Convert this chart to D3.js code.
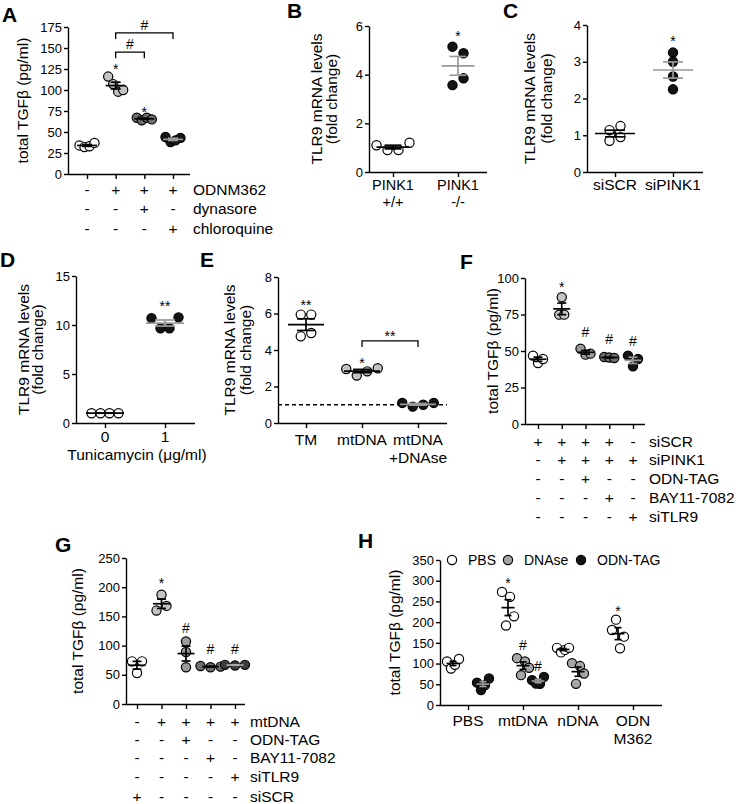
<!DOCTYPE html>
<html><head><meta charset="utf-8">
<script src="https://cdn.jsdelivr.net/npm/d3@7"></script>
<style>body{margin:0;background:#fff}svg{display:block}</style>
</head><body>
<svg id="fig" width="739" height="804"></svg>
<script>
// ================= DATA =================
// Panel A
const aTicks = [0, 25, 50, 75, 100, 125, 150, 175];
const aValues = [[34, 32, 33, 37], [116, 107, 98, 100], [67, 64, 67, 65], [44, 38, 40, 43]];
const aRowNames = ["ODNM362", "dynasore", "chloroquine"];
const aRowSigns = [["-", "+", "+", "+"], ["-", "-", "+", "-"], ["-", "-", "-", "+"]];
const aMarks = [{ g: 1, text: "*", level: 119 }, { g: 2, text: "*", level: 68 }];
const aBrackets = [{ from: 1, to: 2, level: 145, text: "#" }, { from: 1, to: 3, level: 168, text: "#" }];
// Panel B
const bTicks = [0, 2, 4, 6];
const bCats = [["PINK1", "+/+"], ["PINK1", "-/-"]];
const bValues = [[1.1, 0.9, 0.9, 1.2], [5.15, 4.88, 3.57, 3.85]];
const bMarks = [{ g: 1, text: "*", level: 5.4 }];
// Panel C
const cTicks = [0, 1, 2, 3, 4];
const cCats = [["siSCR"], ["siPINK1"]];
const cValues = [[1.14, 1.25, 0.85, 0.95], [3.0, 3.25, 2.6, 2.25]];
const cMarks = [{ g: 1, text: "*", level: 3.43 }];
// Panel D
const dTicks = [0, 5, 10, 15];
const dCats = [["0"], ["1"]];
const dValues = [[1, 1, 1, 1], [10.7, 9.66, 9.66, 10.78]];
const dMarks = [{ g: 1, text: "**", level: 11.4 }];
// Panel E
const eTicks = [0, 2, 4, 6, 8];
const eCats = [["TM"], ["mtDNA"], ["mtDNA", "+DNAse"]];
const eValues = [[5.94, 5.94, 4.75, 4.93], [2.96, 2.6, 2.83, 3.0], [1.1, 0.9, 1.0, 1.1]];
const eMarks = [{ g: 0, text: "**", level: 6.2 }, { g: 1, text: "*", level: 3.0 }];
const eBrackets = [{ from: 1, to: 2, level: 4.5, text: "**" }];
const eBaseline = 1;
// Panel F
const fTicks = [0, 25, 50, 75, 100];
const fValues = [[46.8, 41.8, 44.5], [86.8, 74.9, 74.9], [51.6, 47.5, 48.2], [45.9, 45.5, 45.2], [46.8, 39.5, 44.5]];
const fRowNames = ["siSCR", "siPINK1", "ODN-TAG", "BAY11-7082", "siTLR9"];
const fRowSigns = [["+", "+", "+", "+", "-"], ["-", "+", "+", "+", "+"], ["-", "-", "+", "-", "-"], ["-", "-", "-", "+", "-"], ["-", "-", "-", "-", "+"]];
const fMarks = [{ g: 1, text: "*", level: 90.4 }, { g: 2, text: "#", level: 59.6 }, { g: 3, text: "#", level: 54.8 }, { g: 4, text: "#", level: 53.4 }];
// Panel G
const gTicks = [0, 50, 100, 150, 200, 250];
const gValues = [[73, 53, 73], [187, 160, 168], [107, 89, 63], [65, 63, 64], [67, 66, 67]];
const gRowNames = ["mtDNA", "ODN-TAG", "BAY11-7082", "siTLR9", "siSCR"];
const gRowSigns = [["-", "+", "+", "+", "+"], ["-", "-", "+", "-", "-"], ["-", "-", "-", "+", "-"], ["-", "-", "-", "-", "+"], ["+", "-", "-", "-", "-"]];
const gMarks = [{ g: 1, text: "*", level: 198.6 }, { g: 2, text: "#", level: 121.6 }, { g: 3, text: "#", level: 85.6 }, { g: 4, text: "#", level: 85.6 }];
// Panel H
const hTicks = [0, 50, 100, 150, 200, 250, 300, 350];
const hCats = [["PBS"], ["mtDNA"], ["nDNA"], ["ODN", "M362"]];
const hTreatments = ["PBS", "DNAse", "ODN-TAG"];
const hPBS = [[105, 88, 97, 111], [273, 192, 261, 214], [138, 127, 133, 138], [181, 206, 137, 165]]; // per category
const hDNAse = [null, [113, 72, 105, 90], [101, 51, 94, 76], null];
const hODN = [[54, 36, 48, 64], [60, 52, 51, 68], null, null];
const hMarks = [{ cat: 1, sub: "PBS", text: "*", level: 282 }, { cat: 1, sub: "DNAse", text: "#", level: 133 },
                { cat: 1, sub: "ODN-TAG", text: "#", level: 82 }, { cat: 3, sub: "PBS", text: "*", level: 215 }];

// ================= DRAWING =================
const FONT = "'Liberation Sans', Arial, Helvetica, sans-serif";
const svg = d3.select("#fig");
svg.append("rect").attr("width", 739).attr("height", 804).attr("fill", "#fff");

function swarm(vals, y, thr, sp) {
  const n = vals.length, off = new Array(n).fill(0);
  const order = d3.range(n).sort((a, b) => vals[a] - vals[b]);
  const clusters = []; let cur = [order[0]];
  for (let k = 1; k < n; k++) {
    if (Math.abs(y(vals[order[k]]) - y(vals[order[k - 1]])) < thr) cur.push(order[k]);
    else { clusters.push(cur); cur = [order[k]]; }
  }
  clusters.push(cur);
  clusters.forEach(cl => {
    const row = cl.slice().sort((a, b) => a - b);
    row.forEach((i, j) => off[i] = (j - (row.length - 1) / 2) * sp);
  });
  return off;
}

function txt(g, x, y, s, size, anchor) {
  return g.append("text").attr("x", x).attr("y", y).text(s)
    .attr("font-family", FONT).attr("font-size", size).attr("text-anchor", anchor || "middle").attr("fill", "#000");
}

function drawPanel(c) {
  const g = svg.append("g");
  const y = d3.scaleLinear().domain(c.domain).range([c.yBot, c.yTop]);
  const x = d3.scalePoint().domain(d3.range(c.nCats)).range(c.catRange);
  const sub = c.subs ? d3.scalePoint().domain(c.subs).range(c.subRange) : null;
  const cxOf = gr => x(gr.cat) + (sub && gr.sub ? sub(gr.sub) : 0);

  // y axis
  const ya = g.append("g").attr("transform", `translate(${c.x0},0)`)
    .call(d3.axisLeft(y).tickValues(c.ticks).tickFormat(d3.format("~g")).tickSize(4).tickSizeOuter(0).tickPadding(2));
  ya.select(".domain").attr("stroke", "#000").attr("stroke-width", 1.4);
  ya.selectAll(".tick line").attr("stroke", "#000").attr("stroke-width", 1.4);
  ya.selectAll(".tick text").attr("font-size", 13).attr("font-family", FONT).attr("fill", "#000");
  // x axis
  g.append("line").attr("x1", c.x0 - 0.2).attr("x2", c.x1).attr("y1", c.yBot + 0.5).attr("y2", c.yBot + 0.5)
    .attr("stroke", "#000").attr("stroke-width", 1.4);
  const xa = g.append("g").attr("transform", `translate(0,${c.yBot})`)
    .call(d3.axisBottom(x).tickSize(5).tickSizeOuter(0).tickFormat(""));
  xa.select(".domain").remove();
  xa.selectAll(".tick line").attr("stroke", "#000").attr("stroke-width", 1.4);

  // dashed reference
  if (c.dashed != null) {
    g.append("line").attr("x1", c.x0).attr("x2", c.x1).attr("y1", y(c.dashed)).attr("y2", y(c.dashed))
      .attr("stroke", "#000").attr("stroke-width", 1.3).attr("stroke-dasharray", "4,3");
  }

  // groups
  c.groups.forEach(gr => {
    const X = cxOf(gr);
    const offs = swarm(gr.values, y, c.thr, c.sp);
    g.append("g").selectAll("circle").data(gr.values).join("circle")
      .attr("cx", (v, i) => X + offs[i]).attr("cy", v => y(v)).attr("r", c.r)
      .attr("fill", gr.fill).attr("stroke", "#000").attr("stroke-width", 1.2);
    const m = d3.mean(gr.values), sem = d3.deviation(gr.values) / Math.sqrt(gr.values.length);
    const lg = g.append("g").attr("stroke", gr.line).attr("stroke-width", 1.7).attr("fill", "none");
    lg.append("line").attr("x1", X - c.meanW / 2).attr("x2", X + c.meanW / 2).attr("y1", y(m)).attr("y2", y(m));
    lg.append("line").attr("x1", X).attr("x2", X).attr("y1", y(m - sem)).attr("y2", y(m + sem));
    [m - sem, m + sem].forEach(v => lg.append("line").attr("x1", X - c.capW / 2).attr("x2", X + c.capW / 2).attr("y1", y(v)).attr("y2", y(v)));
  });

  // marks
  (c.marks || []).forEach(mk => {
    const gr = mk.g != null ? c.groups[mk.g] : mk;
    txt(g, cxOf(gr), y(mk.level), mk.text, 14);
  });
  // brackets
  (c.brackets || []).forEach(b => {
    const x1 = cxOf(c.groups[b.from]), x2 = cxOf(c.groups[b.to]), yy = y(b.level);
    g.append("path").attr("d", `M${x1},${yy + 6}V${yy}H${x2}V${yy + 6}`)
      .attr("fill", "none").attr("stroke", "#000").attr("stroke-width", 1.3);
    txt(g, (x1 + x2) / 2, yy - (b.text === "#" ? 3 : 0), b.text, 14);
  });

  // y label
  const cy = (c.yTop + c.yBot) / 2;
  c.ylab.forEach((s, i) => {
    g.append("text").attr("transform", `translate(${c.ylabX[i]},${cy}) rotate(-90)`).text(s)
      .attr("font-family", FONT).attr("font-size", 15.5).attr("text-anchor", "middle").attr("fill", "#000");
  });
  // category labels
  if (c.catLabels) c.catLabels.forEach((lines, i) => lines.forEach((s, j) => txt(g, x(i), c.catBase[j], s, c.catSize || 15.5)));
  // rows of +/- signs
  if (c.rows) {
    c.rows.names.forEach((nm, r) => {
      c.rows.signs[r].forEach((s, i) => txt(g, x(i), c.rows.base[r], s, 15.5));
      txt(g, c.rows.labelX, c.rows.base[r], nm, 15.5, "start");
    });
  }
  if (c.xTitle) txt(g, c.xTitle.x, c.xTitle.y, c.xTitle.text, 15.5);
  return { g, x, y, sub };
}

const WHITE = "#fff", LIGHT = "#c4c4c4", MID = "#9a9a9a", DARK = "#707070", BLACK = "#141414";

// A
drawPanel({
  x0: 68, x1: 190, yTop: 27, yBot: 174, domain: [0, 175], ticks: aTicks, nCats: 4, catRange: [87, 173],
  r: 4.6, thr: 8, sp: 5, meanW: 20, capW: 10,
  groups: aValues.map((v, i) => ({ cat: i, values: v, fill: [WHITE, LIGHT, DARK, BLACK][i], line: ["#000", "#000", "#000", "#999"][i] })),
  marks: aMarks, brackets: aBrackets,
  ylab: ["total TGF\u03B2 (pg/ml)"], ylabX: [28],
  rows: { names: aRowNames, signs: aRowSigns, base: [195, 214, 234], labelX: 193 }
});
// B
drawPanel({
  x0: 369, x1: 487, yTop: 26, yBot: 172, domain: [0, 6], ticks: bTicks, nCats: 2, catRange: [393, 458],
  r: 4.6, thr: 8, sp: 11, meanW: 33, capW: 17,
  groups: bValues.map((v, i) => ({ cat: i, values: v, fill: [WHITE, BLACK][i], line: ["#000", "#999"][i] })),
  marks: bMarks, ylab: ["TLR9 mRNA levels", "(fold change)"], ylabX: [322, 337],
  catLabels: bCats, catBase: [190, 206.5], catSize: 14.5
});
// C
drawPanel({
  x0: 587, x1: 703, yTop: 25, yBot: 172, domain: [0, 4], ticks: cTicks, nCats: 2, catRange: [615, 673],
  r: 4.6, thr: 6.5, sp: 11, meanW: 40, capW: 20,
  groups: cValues.map((v, i) => ({ cat: i, values: v, fill: [WHITE, BLACK][i], line: ["#000", "#999"][i] })),
  marks: cMarks, ylab: ["TLR9 mRNA levels", "(fold change)"], ylabX: [535, 552],
  catLabels: cCats, catBase: [190]
});
// D
drawPanel({
  x0: 76, x1: 195, yTop: 276, yBot: 423, domain: [0, 15], ticks: dTicks, nCats: 2, catRange: [105, 165],
  r: 4.6, thr: 12, sp: 9, meanW: 38, capW: 20,
  groups: dValues.map((v, i) => ({ cat: i, values: v, fill: [WHITE, BLACK][i], line: ["#000", "#999"][i] })),
  marks: dMarks, ylab: ["TLR9 mRNA levels", "(fold change)"], ylabX: [28.5, 43],
  catLabels: dCats, catBase: [442],
  xTitle: { x: 137, y: 460, text: "Tunicamycin (\u03BCg/ml)" }
});
// E
drawPanel({
  x0: 278, x1: 447, yTop: 277, yBot: 423, domain: [0, 8], ticks: eTicks, nCats: 3, catRange: [306, 418],
  r: 4.6, thr: 8, sp: 10.5, meanW: 36, capW: 18,
  groups: eValues.map((v, i) => ({ cat: i, values: v, fill: [WHITE, LIGHT, BLACK][i], line: ["#000", "#000", "#999"][i] })),
  marks: eMarks, brackets: eBrackets, dashed: eBaseline,
  ylab: ["TLR9 mRNA levels", "(fold change)"], ylabX: [235, 251],
  catLabels: eCats, catBase: [445, 463]
});
// F
drawPanel({
  x0: 525, x1: 645, yTop: 278, yBot: 424, domain: [0, 100], ticks: fTicks, nCats: 5, catRange: [538, 633],
  r: 4.6, thr: 8, sp: 5, meanW: 17, capW: 9,
  groups: fValues.map((v, i) => ({ cat: i, values: v, fill: [WHITE, LIGHT, MID, DARK, BLACK][i], line: ["#000", "#000", "#000", "#000", "#999"][i] })),
  marks: fMarks, ylab: ["total TGF\u03B2 (pg/ml)"], ylabX: [498],
  rows: { names: fRowNames, signs: fRowSigns, base: [447, 465, 484, 503, 522], labelX: 649 }
});
// G
drawPanel({
  x0: 126, x1: 245, yTop: 558, yBot: 704, domain: [0, 250], ticks: gTicks, nCats: 5, catRange: [137, 235],
  r: 4.6, thr: 8, sp: 10, meanW: 17, capW: 9,
  groups: gValues.map((v, i) => ({ cat: i, values: v, fill: [WHITE, LIGHT, MID, DARK, "#3c3c3c"][i], line: ["#000", "#000", "#000", "#000", "#aaa"][i] })),
  marks: gMarks, ylab: ["total TGF\u03B2 (pg/ml)"], ylabX: [83],
  rows: { names: gRowNames, signs: gRowSigns, base: [727, 745, 763, 782, 802], labelX: 250 }
});
// H
const hFill = { "PBS": WHITE, "DNAse": "#a6a6a6", "ODN-TAG": BLACK };
const hLine = { "PBS": "#000", "DNAse": "#000", "ODN-TAG": "#999" };
const hGroups = [];
[[hPBS, "PBS"], [hDNAse, "DNAse"], [hODN, "ODN-TAG"]].forEach(([arr, t]) => {
  arr.forEach((v, i) => { if (v) hGroups.push({ cat: i, sub: t, values: v, fill: hFill[t], line: hLine[t] }); });
});
drawPanel({
  x0: 440, x1: 662, yTop: 560, yBot: 705, domain: [0, 350], ticks: hTicks, nCats: 4, catRange: [468, 633],
  subs: hTreatments, subRange: [-15, 15],
  r: 4.6, thr: 40, sp: 4, meanW: 13, capW: 7,
  groups: hGroups, marks: hMarks,
  ylab: ["total TGF\u03B2 (pg/ml)"], ylabX: [400],
  catLabels: hCats, catBase: [726, 744]
});
// H legend
const leg = svg.append("g");
hTreatments.forEach((t, i) => {
  const lx = [452, 508, 581][i];
  leg.append("circle").attr("cx", lx).attr("cy", 560).attr("r", 4.6).attr("fill", hFill[t]).attr("stroke", "#000").attr("stroke-width", 1.2);
  txt(leg, lx + 16, 565, t, 14, "start");
});

// Panel letters
[["A", 2, 22], ["B", 287, 18], ["C", 503, 18], ["D", 0, 267], ["E", 200, 267], ["F", 460, 269], ["G", 55, 552], ["H", 358, 548]]
  .forEach(([s, x, y]) => svg.append("text").attr("x", x).attr("y", y).text(s)
    .attr("font-family", FONT).attr("font-size", 21).attr("font-weight", "bold").attr("fill", "#000"));
</script>
</body></html>
